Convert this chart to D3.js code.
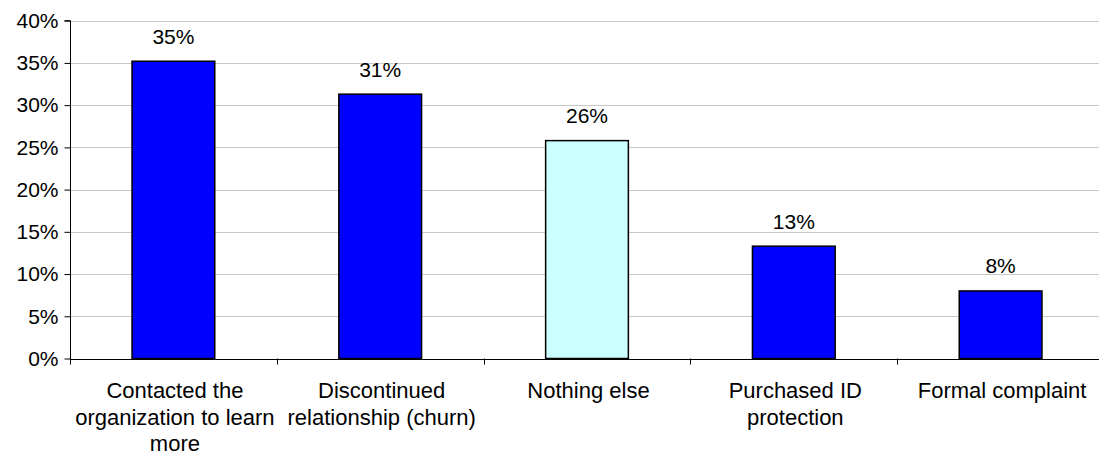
<!DOCTYPE html>
<html>
<head>
<meta charset="utf-8">
<script src="https://cdn.jsdelivr.net/npm/d3@7"></script>
<style>
  html, body { margin: 0; padding: 0; background: #ffffff; }
  svg { display: block; }
  text { font-family: Arial, "Liberation Sans", sans-serif; fill: #000; }
</style>
</head>
<body>
<svg id="chart" width="1099" height="454"></svg>
<script>
const categories = [
  ["Contacted the", "organization to learn", "more"],
  ["Discontinued", "relationship (churn)"],
  ["Nothing else"],
  ["Purchased ID", "protection"],
  ["Formal complaint"]
];
const values = [35.2, 31.3, 25.8, 13.3, 8.0];
const valueLabels = ["35%", "31%", "26%", "13%", "8%"];
const highlight = [false, false, true, false, false];
const yTicks = [0, 5, 10, 15, 20, 25, 30, 35, 40];

const svg = d3.select("#chart");
const x0 = 70, x1 = 1104, yBottom = 358.5, yTop = 20.7;
const fontSize = 21;
const catFontSize = 22;

const idx = d3.range(values.length);
const x = d3.scaleBand().domain(idx).range([x0, x1]).paddingInner(0.6).paddingOuter(0.3);
const xEdge = d3.scaleLinear().domain([0, values.length]).range([x0, x1]);
const y = d3.scaleLinear().domain([0, 40]).range([yBottom, yTop]);

// gridlines
svg.append("g").selectAll("line").data(yTicks.filter(d => d > 0)).join("line")
  .attr("x1", x0).attr("x2", 1099)
  .attr("y1", d => Math.round(y(d)) + 0.5).attr("y2", d => Math.round(y(d)) + 0.5)
  .attr("stroke", "#c8c8c8").attr("stroke-width", 1);

// bars
svg.append("g").selectAll("rect").data(idx).join("rect")
  .attr("x", i => x(i))
  .attr("y", i => y(values[i]))
  .attr("width", x.bandwidth())
  .attr("height", i => y(0) - y(values[i]))
  .attr("fill", i => highlight[i] ? "#CCFFFF" : "#0000FF")
  .attr("stroke", "#000").attr("stroke-width", 1.5);

// value labels
svg.append("g").selectAll("text").data(idx).join("text")
  .attr("x", i => x(i) + x.bandwidth() / 2)
  .attr("y", i => y(values[i]) - 17.5)
  .attr("text-anchor", "middle")
  .style("font-size", fontSize + "px")
  .text(i => valueLabels[i]);

// y axis
const yAxis = d3.axisLeft(y).tickValues(yTicks).tickFormat(d => d + "%").tickSize(6).tickPadding(6);
const gy = svg.append("g").attr("transform", `translate(${x0 + 0.5},0)`).call(yAxis);
gy.select(".domain").attr("stroke", "#000").attr("d", `M-6,${y(40)}H0V${y(0) + 6}`);
gy.selectAll(".tick line").attr("stroke", "#000");
gy.selectAll(".tick text").style("font-size", fontSize + "px").style("font-family", "Arial, 'Liberation Sans', sans-serif").attr("fill", "#000");

// x axis baseline & ticks
const gx = svg.append("g");
gx.append("line").attr("x1", x0).attr("x2", 1099)
  .attr("y1", Math.round(y(0)) + 0.5).attr("y2", Math.round(y(0)) + 0.5)
  .attr("stroke", "#000").attr("stroke-width", 1);
gx.selectAll("line.tk").data(d3.range(1, values.length + 1)).join("line").attr("class", "tk")
  .attr("x1", d => Math.round(xEdge(d)) + 0.5).attr("x2", d => Math.round(xEdge(d)) + 0.5)
  .attr("y1", y(0)).attr("y2", y(0) + 6)
  .attr("stroke", "#000");

// category labels
const lab = svg.append("g").selectAll("text").data(idx).join("text")
  .attr("text-anchor", "middle")
  .style("font-size", catFontSize + "px");
lab.each(function(i) {
  const t = d3.select(this);
  categories[i].forEach((line, k) => {
    t.append("tspan").attr("x", x(i) + x.bandwidth() / 2 + 1.5).attr("y", 398 + k * 26.7).text(line);
  });
});
</script>
</body>
</html>
